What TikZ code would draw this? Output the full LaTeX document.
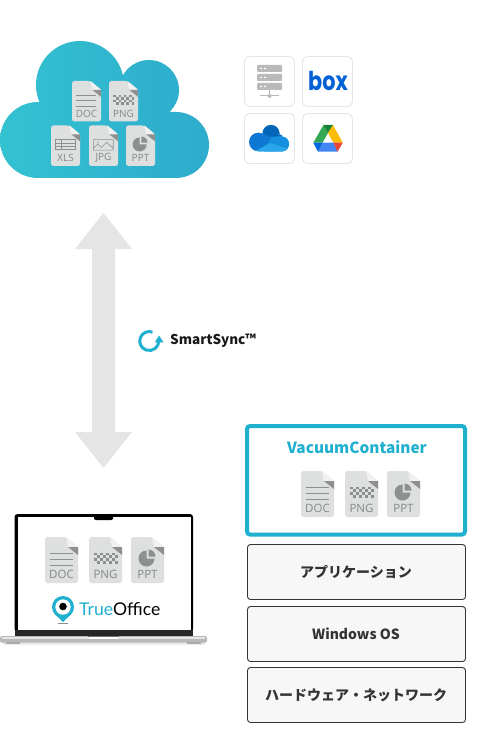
\documentclass[tikz,border=0pt]{standalone}
\usepackage{fontspec}
\setmainfont{Open Sans}
\newfontfamily\cjk{Noto Sans CJK JP}
\newfontfamily\iconfont{Open Sans}
\newfontfamily\boxfont{Poppins}
\newfontfamily\tofont{Lato}
\definecolor{brand}{HTML}{1FB0CF}
\definecolor{icgrey}{HTML}{DEDFDF}
\definecolor{icdark}{HTML}{8E8F90}
\definecolor{ictext}{HTML}{868787}
\definecolor{icfold}{HTML}{F1F1F1}
\definecolor{arrowgrey}{HTML}{E5E5E5}
\definecolor{darktext}{HTML}{333333}
\definecolor{cloudL}{HTML}{33C2D1}
\definecolor{cloudR}{HTML}{2EABCD}
\definecolor{boxblue}{HTML}{0061D5}
\definecolor{odA}{HTML}{0F78D4}
\definecolor{odB}{HTML}{0364B8}
\definecolor{odC}{HTML}{1490DF}
\definecolor{odD}{HTML}{28A8EA}
\definecolor{gdGreen}{HTML}{34A853}
\definecolor{gdDark}{HTML}{188038}
\definecolor{gdYellow}{HTML}{FBBC04}
\definecolor{gdBlue}{HTML}{4285F4}
\definecolor{gdNavy}{HTML}{0066DA}
\definecolor{gdRed}{HTML}{EA4335}
\tikzset{
  layerbox/.style={draw=darktext,line width=0.9pt,fill=black!3,rounded corners=3pt},
  layertext/.style={font=\cjk\bfseries\fontsize{14}{14}\selectfont,text=darktext,inner sep=0pt},
  tile/.style={draw=black!10,line width=0.9pt,fill=white,rounded corners=5pt},
}
% body: name, x, y, scale, font size, label
\newcommand\iconbody[6]{%
  \fill[icgrey,rounded corners=2.5pt] (0,0) -- (21,0) -- (33,10) -- (33,46) -- (0,46) -- cycle;
  \fill[icfold] (21,0) -- (33,10) -- (23,10) -- cycle;
  \fill[icdark] (23,10) -- (33,10) -- (33,18) -- cycle;
  \node[font=\iconfont\fontsize{#5}{#5}\selectfont,text=ictext,inner sep=0pt] (#1) at (16.5,37) {#6};
}
\newcommand\docicon[5]{\begin{scope}[shift={(#2,#3)},scale=#4]
  \iconbody{#1}{#2}{#3}{#4}{#5}{DOC}
  \draw[icdark,line width=0.7pt] (5,16.5) -- (27.5,16.5) (5,22.5) -- (27.5,22.5) (5,28.5) -- (27.5,28.5);
\end{scope}}
\newcommand\pngicon[5]{\begin{scope}[shift={(#2,#3)},scale=#4]
  \iconbody{#1}{#2}{#3}{#4}{#5}{PNG}
  \foreach \r in {0,1,2,3}{\foreach \c in {0,...,7}{
    \pgfmathparse{int(mod(\r+\c,2))}
    \ifnum\pgfmathresult=0 \fill[icdark] ({5+\c*2.95},{15.5+\r*2.9}) rectangle ++(2.95,2.9);\fi
  }}
\end{scope}}
\newcommand\ppticon[5]{\begin{scope}[shift={(#2,#3)},scale=#4]
  \iconbody{#1}{#2}{#3}{#4}{#5}{PPT}
  \fill[icdark] (15.5,21.5) -- (15.5,13.5) arc[start angle=-90,delta angle=-270,radius=8] -- cycle;
  \fill[icdark] (17.5,19.5) -- (17.5,12.5) arc[start angle=-90,delta angle=90,radius=7] -- cycle;
\end{scope}}
\newcommand\xlsicon[5]{\begin{scope}[shift={(#2,#3)},scale=#4]
  \iconbody{#1}{#2}{#3}{#4}{#5}{XLS}
  \draw[icdark,line width=0.6pt] (5,16) rectangle (27.5,27.5) (5,20) -- (27.5,20) (5,24) -- (27.5,24) (12,16) -- (12,27.5);
\end{scope}}
\newcommand\jpgicon[5]{\begin{scope}[shift={(#2,#3)},scale=#4]
  \iconbody{#1}{#2}{#3}{#4}{#5}{JPG}
  \draw[icdark,line width=0.6pt] (5,16) rectangle (27.5,28) (5,26) -- (10,21) -- (14,25) -- (20,19) -- (27.5,26);
  \fill[icdark] (10,19) circle[radius=0.8];
\end{scope}}
\begin{document}
\begin{tikzpicture}[x=1pt,y=-1pt]
\useasboundingbox[fill=white] (0,0) rectangle (500,730);
% cloud
\path[left color=cloudL,right color=cloudR]
  (80,85) circle[radius=44] (149,90) circle[radius=30]
  (38,140) circle[radius=38] (176,145) circle[radius=33]
  (176,112) rectangle (38,178) (120,70) rectangle (80,112);
\docicon{cdoc}{72}{81}{0.88}{10}
\pngicon{cpng}{109}{81}{0.88}{10}
\xlsicon{cxls}{51}{125.5}{0.88}{10}
\jpgicon{cjpg}{89}{125.5}{0.88}{10}
\ppticon{cppt}{126}{125.5}{0.88}{10}
% tiles
\draw[tile] (244.5,56.5) rectangle (294.5,106.5);
\draw[tile] (302.5,56.5) rectangle (352.5,106.5);
\draw[tile] (244.5,113.5) rectangle (294.5,163.5);
\draw[tile] (302.5,113.5) rectangle (352.5,163.5);
% server
\foreach \yy in {65,74,83}{
  \fill[black!27,rounded corners=1pt] (257,\yy) rectangle (282,\yy+7);
  \fill[white] (260,\yy+3) rectangle (262,\yy+4) (264,\yy+3) rectangle (266,\yy+4);
}
\draw[black!27,line width=1pt] (269.5,90) -- (269.5,96) (260,96) -- (279,96);
\fill[black!27] (269.5,96) circle[radius=2];
% box
\node[font=\boxfont\bfseries\fontsize{26}{26}\selectfont,text=boxblue,inner sep=0pt,xscale=0.8] (boxlogo) at (328,80.5) {box};
% onedrive
\begin{scope}
  \clip (258.3,142) circle[radius=9.3] (271,133.5) circle[radius=8.5] (281.5,144) circle[radius=7.5] (282,135) rectangle (258,151.5);
  \fill[odA] (248,120) rectangle (292,155);
  \fill[odB] (260,124) -- (281,124) -- (281,136) -- (271,137) -- (262,133) -- cycle;
  \fill[odC] (271,137) -- (292,135) -- (292,155) -- (262,155) -- cycle;
  \fill[odD] (252,153) -- (270,143) -- (292,150) -- (292,155) -- cycle;
\end{scope}
% drive
\fill[gdGreen] (323.5,125) -- (328,133) -- (322.5,142.7) -- (313.3,142.7) -- cycle;
\fill[gdDark] (323.5,125) -- (333,125) -- (328,133) -- cycle;
\fill[gdYellow] (333,125) -- (342.7,142.7) -- (333.3,142.7) -- (328,133) -- cycle;
\fill[gdBlue] (322.5,142.7) -- (333.5,142.7) -- (337.5,151.7) -- (318,151.7) -- cycle;
\fill[gdNavy] (313.3,142.7) -- (322.5,142.7) -- (318,151.7) -- cycle;
\fill[gdRed] (333.5,142.7) -- (342.7,142.7) -- (337.5,151.7) -- cycle;
% double arrow
\fill[arrowgrey] (103.5,213) -- (132,249) -- (115,249) -- (115,432) -- (132,432) -- (103.5,468) -- (75,432) -- (92,432) -- (92,249) -- (75,249) -- cycle;
% smartsync
\draw[brand,line width=3pt] (152.5,332.1) arc[start angle=-70,delta angle=-285,radius=9.5];
\fill[brand] (159,335.5) -- (163.5,342.3) -- (154.8,342.3) -- cycle;
\node[anchor=west,font=\cjk\bfseries\fontsize{13.5}{14}\selectfont,inner sep=0pt,text=black!90] (sync) at (170,341) {SmartSync™};
% vacuum container
\draw[brand,line width=4pt,fill=white,rounded corners=3pt] (247,426) rectangle (465,534.5);
\node[font=\cjk\bfseries\fontsize{15.4}{16}\selectfont,text=brand,inner sep=0pt] (vctitle) at (357,447) {VacuumContainer};
\docicon{vdoc}{301}{471}{1}{11.5}
\pngicon{vpng}{345}{471}{1}{11.5}
\ppticon{vppt}{387}{471}{1}{11.5}
% layers
\draw[layerbox] (247.5,544.5) rectangle (465.5,599.5);
\node[layertext] (app) at (356,572) {アプリケーション};
\draw[layerbox] (247.5,606.5) rectangle (465.5,661.5);
\node[layertext] (os) at (356,633.5) {Windows OS};
\draw[layerbox] (247.5,667.5) rectangle (465.5,722.5);
\node[layertext] (hw) at (356,695) {ハードウェア・ネットワーク};
% laptop
\fill[black!8] (3,642) rectangle (205,644.5);
\fill[black!45] (6,642) rectangle (20,643.5) (187,642) rectangle (201,643.5);
\fill[black,rounded corners=3pt] (14.5,514) -- (193,514) -- (193,632) -- (14.5,632) -- cycle;
\fill[white] (17.5,517) rectangle (190.5,630);
\fill[black] (94,517) -- (113,517) -- (113,519) -- (111,520) -- (96,520) -- (94,519) -- cycle;
\fill[black!85] (14.5,630) rectangle (193,636);
\fill[black!28,rounded corners=1.5pt] (0,636) rectangle (207,642.5);
\fill[black!10] (2,636.5) rectangle (205,639);
\fill[black!55] (88,636) rectangle (119,636.8);
\fill[white] (89,637) rectangle (118,639);
\docicon{ldoc}{45}{537}{1}{11.5}
\pngicon{lpng}{89}{537}{1}{11.5}
\ppticon{lppt}{131}{537}{1}{11.5}
% trueoffice logo
\fill[brand] (63,607) circle[radius=11];
\fill[brand] (56,615) -- (63,622) -- (70,615) -- cycle;
\fill[white] (63,607) circle[radius=7.7];
\fill[black] (63,606.5) circle[radius=3.8];
\draw[black!45,line width=0.8pt] (58,623) -- (68,623);
\node[anchor=base west,font=\tofont\fontsize{17.6}{18}\selectfont,inner sep=0pt] (to) at (79,615.5) {\textcolor{brand}{True}\textcolor{black}{Office}};
\end{tikzpicture}
\end{document}
